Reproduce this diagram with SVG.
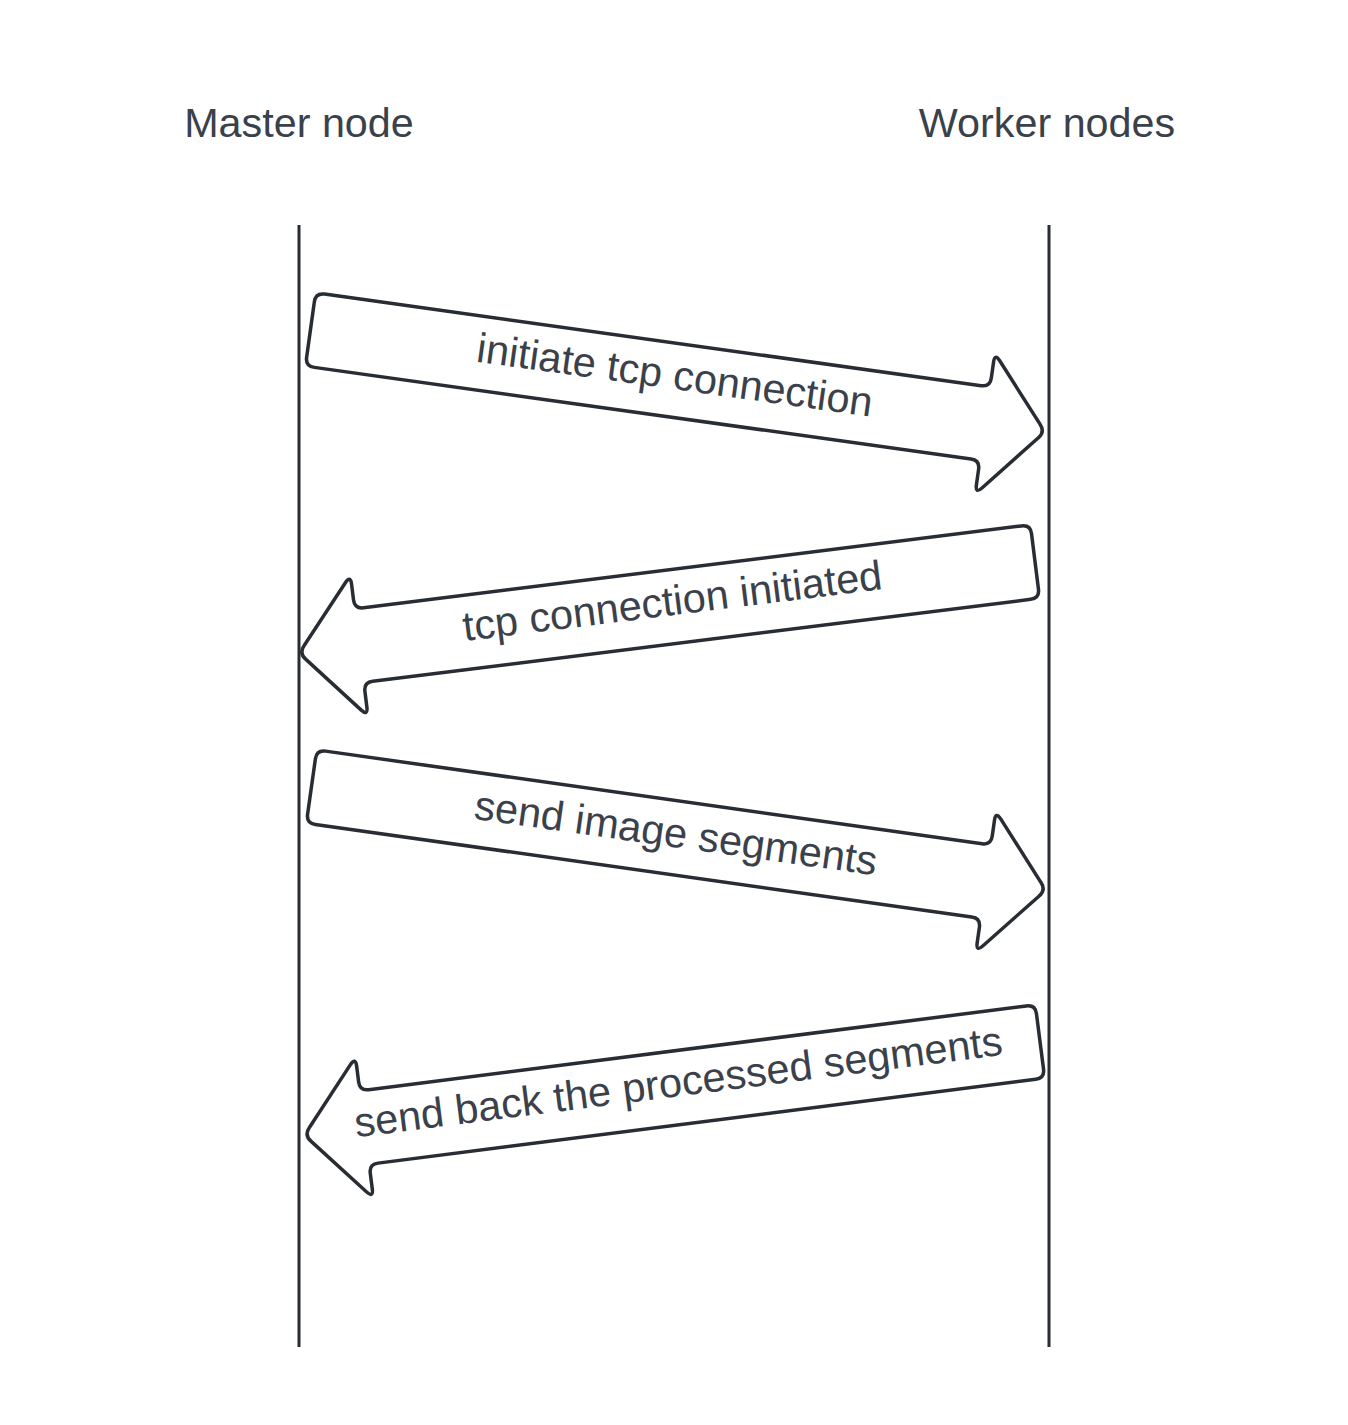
<svg xmlns="http://www.w3.org/2000/svg" xmlns:xlink="http://www.w3.org/1999/xlink" width="1348" height="1425" viewBox="0 0 1348 1425">
<style>
.bg{fill:#ffffff}
.head{font-family:"Liberation Sans",Arial,sans-serif;font-size:41.3px;fill:#3a414b;text-anchor:middle}
.lbl{font-family:"Liberation Sans",Arial,sans-serif;font-size:41.5px;fill:#3a414b;text-anchor:middle}
.life{stroke:#282c33;stroke-width:3;fill:none}
.arrow{fill:#ffffff;stroke:#282c33;stroke-width:3.5;stroke-linejoin:round}
</style>
<defs>
<path id="blk" d="M0,0 L0,-28 Q0,-37 9,-37 L672,-37 Q681,-37 681,-46 L681,-62 Q681,-71 686.96,-64.2 L735.6,-7 Q742,0 735.6,7 L686.96,64.2 Q681,71 681,62 L681,46 Q681,37 672,37 L9,37 Q0,37 0,28 Z"/>
</defs>
<rect class="bg" x="0" y="0" width="1348" height="1425"/>
<g id="master">
<text class="head" x="299" y="137">Master node</text>
<line class="life" x1="299" y1="225" x2="299" y2="1347"/>
</g>
<g id="worker">
<text class="head" x="1047" y="137">Worker nodes</text>
<line class="life" x1="1049" y1="225" x2="1049" y2="1347"/>
</g>
<g id="connectors">
<g id="msg1">
<use xlink:href="#blk" href="#blk" class="arrow" transform="translate(310.5,329.5) rotate(7.94)"/>
<text class="lbl" x="673" y="389" transform="rotate(7.94,673,389)">initiate tcp connection</text>
</g>
<g id="msg2">
<use xlink:href="#blk" href="#blk" class="arrow" transform="translate(1035,561.5) rotate(172.9)"/>
<text class="lbl" x="674" y="615" transform="rotate(-7.1,674,615)">tcp connection initiated</text>
</g>
<g id="msg3">
<use xlink:href="#blk" href="#blk" class="arrow" transform="translate(311.5,786.5) rotate(8.03)"/>
<text class="lbl" x="674" y="847" transform="rotate(8.03,674,847)">send image segments</text>
</g>
<g id="msg4">
<use xlink:href="#blk" href="#blk" class="arrow" transform="translate(1040,1041.5) rotate(172.74)"/>
<text class="lbl" x="680" y="1096" transform="rotate(-7.26,680,1096)">send back the processed segments</text>
</g>
</g>
</svg>
